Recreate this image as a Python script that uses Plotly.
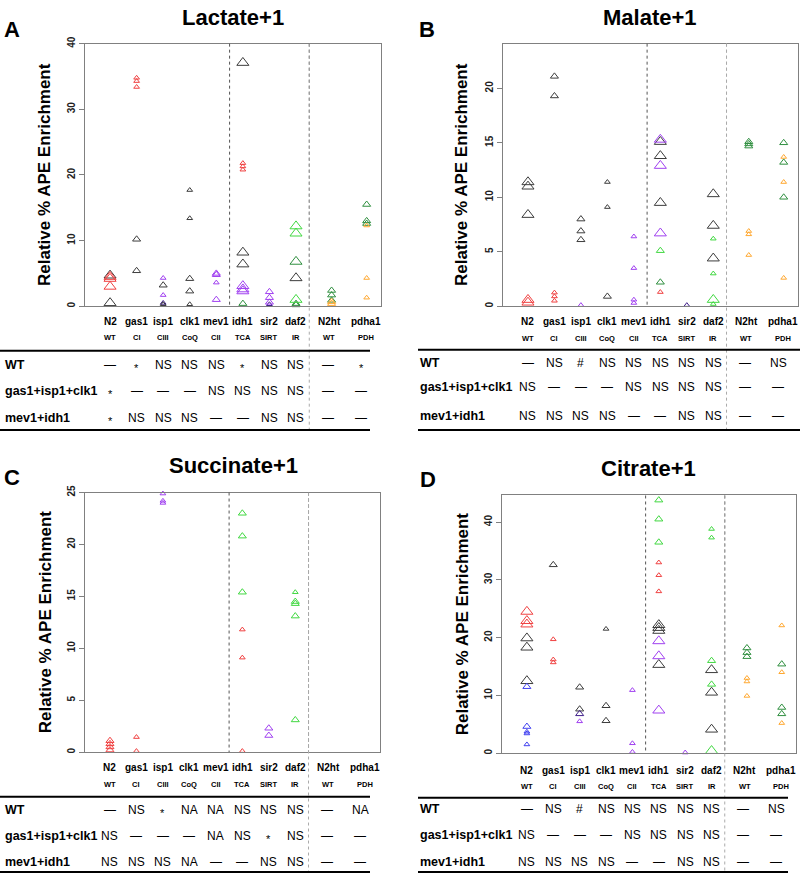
import plotly.graph_objects as go

W, H = 800, 875

# ---------------- data ----------------
CATS = ["N2", "gas1", "isp1", "clk1", "mev1", "idh1", "sir2", "daf2", "N2ht", "pdha1"]
SUBS = ["WT", "CI", "CIII", "CoQ", "CII", "TCA", "SIRT", "IR", "WT", "PDH"]
ROWS = ["WT", "gas1+isp1+clk1", "mev1+idh1"]

# Lactate+1
LAC_CAT = ["N2", "N2", "N2", "N2", "N2",
           "gas1", "gas1", "gas1", "gas1", "gas1",
           "isp1", "isp1", "isp1", "isp1", "isp1",
           "clk1", "clk1", "clk1", "clk1", "clk1",
           "mev1", "mev1", "mev1", "mev1",
           "idh1", "idh1", "idh1", "idh1", "idh1", "idh1", "idh1", "idh1", "idh1", "idh1",
           "sir2", "sir2", "sir2", "sir2",
           "daf2", "daf2", "daf2", "daf2", "daf2", "daf2", "daf2",
           "N2ht", "N2ht", "N2ht", "N2ht", "N2ht",
           "pdha1", "pdha1", "pdha1", "pdha1", "pdha1", "pdha1"]
LAC_VAL = [4.7, 4.5, 4.2, 3.0, 0.5,
           34.8, 34.3, 33.4, 10.2, 5.4,
           4.3, 3.2, 1.7, 0.5, 0.3,
           17.7, 13.4, 4.2, 2.3, 0.3,
           5.0, 4.8, 3.6, 1.0,
           37.1, 21.8, 21.3, 20.8, 8.2, 6.4, 3.1, 2.6, 2.3, 0.4,
           2.2, 1.3, 0.6, 0.3,
           12.2, 11.1, 6.8, 4.3, 1.0, 0.4, 0.2,
           2.4, 1.7, 0.9, 0.7, 0.4,
           15.5, 13.0, 12.6, 12.3, 4.3, 1.3]
LAC_SER = ["black_L", "red_L", "red_L", "red_L", "black_L",
           "red_S", "red_S", "red_S", "black_M", "black_M",
           "purple_S", "black_M", "purple_S", "navy_S", "black_S",
           "black_S", "black_S", "black_M", "black_M", "black_S",
           "purple_M", "purple_M", "purple_S", "purple_M",
           "black_L", "red_S", "red_S", "red_S", "black_L", "black_L", "purple_L", "purple_L", "purple_L", "dkgreen_M",
           "purple_M", "purple_M", "purple_M", "navy_S",
           "lgreen_L", "lgreen_L", "dkgreen_L", "black_L", "lgreen_L", "dkgreen_M", "dkgreen_M",
           "dkgreen_M", "dkgreen_M", "dkgreen_M", "orange_M", "orange_M",
           "dkgreen_M", "dkgreen_M", "dkgreen_M", "orange_S", "orange_S", "orange_S"]
LAC_TABLE = [["—", "*", "NS", "NS", "NS", "*", "NS", "NS", "—", "*"],
             ["*", "—", "—", "—", "NS", "NS", "NS", "NS", "—", "—"],
             ["*", "NS", "NS", "NS", "—", "—", "NS", "NS", "—", "—"]]

# Malate+1
MAL_CAT = ["N2", "N2", "N2", "N2", "N2",
           "gas1", "gas1", "gas1", "gas1", "gas1",
           "isp1", "isp1", "isp1", "isp1",
           "clk1", "clk1", "clk1",
           "mev1", "mev1", "mev1", "mev1",
           "idh1", "idh1", "idh1", "idh1", "idh1", "idh1", "idh1", "idh1", "idh1",
           "sir2",
           "daf2", "daf2", "daf2", "daf2", "daf2", "daf2", "daf2",
           "N2ht", "N2ht", "N2ht", "N2ht", "N2ht", "N2ht",
           "pdha1", "pdha1", "pdha1", "pdha1", "pdha1", "pdha1"]
MAL_VAL = [11.4, 11.0, 8.4, 0.6, 0.35,
           21.1, 19.3, 1.25, 0.9, 0.5,
           8.0, 6.9, 6.1, 0.1,
           11.4, 9.1, 0.9,
           6.4, 3.5, 0.6, 0.3,
           15.3, 15.1, 13.8, 12.9, 9.5, 6.7, 5.1, 2.2, 1.3,
           0.1,
           10.3, 7.4, 4.4, 6.2, 3.0, 0.6, 0.2,
           15.1, 14.9, 14.7, 6.9, 6.6, 4.7,
           15.0, 13.2, 10.0, 13.7, 11.4, 2.6]
MAL_SER = ["black_L", "black_L", "black_L", "red_L", "red_L",
           "black_M", "black_M", "red_S", "red_S", "red_S",
           "black_M", "black_M", "black_M", "purple_S",
           "black_S", "black_S", "black_M",
           "purple_S", "purple_S", "purple_S", "purple_S",
           "purple_L", "black_L", "black_L", "purple_L", "black_L", "purple_L", "lgreen_M", "dkgreen_M", "red_S",
           "navy_S",
           "black_L", "black_L", "black_L", "lgreen_S", "lgreen_S", "lgreen_L", "lgreen_S",
           "dkgreen_M", "dkgreen_M", "dkgreen_M", "orange_S", "orange_S", "orange_S",
           "dkgreen_M", "dkgreen_M", "dkgreen_M", "orange_S", "orange_S", "orange_S"]
MAL_TABLE = [["—", "NS", "#", "NS", "NS", "NS", "NS", "NS", "—", "NS"],
             ["NS", "—", "—", "—", "NS", "NS", "NS", "NS", "—", "—"],
             ["NS", "NS", "NS", "NS", "—", "—", "NS", "NS", "—", "—"]]

# Succinate+1
SUC_CAT = ["N2", "N2", "N2", "N2",
           "gas1", "gas1",
           "isp1", "isp1", "isp1",
           "idh1", "idh1", "idh1", "idh1", "idh1", "idh1",
           "sir2", "sir2",
           "daf2", "daf2", "daf2", "daf2", "daf2"]
SUC_VAL = [1.1, 0.8, 0.5, 0.2,
           1.45, 0.1,
           24.9, 24.2, 24.0,
           23.0, 20.8, 15.4, 11.8, 9.1, 0.1,
           2.3, 1.6,
           15.4, 14.5, 14.3, 13.1, 3.1]
SUC_SER = ["red_M", "red_M", "red_M", "red_M",
           "red_S", "red_S",
           "purple_S", "purple_S", "purple_S",
           "lgreen_M", "lgreen_M", "lgreen_M", "red_S", "red_S", "red_S",
           "purple_M", "purple_M",
           "lgreen_S", "lgreen_M", "lgreen_M", "lgreen_M", "lgreen_M"]
SUC_TABLE = [["—", "NS", "*", "NA", "NA", "NS", "NS", "NS", "—", "NA"],
             ["NS", "—", "—", "—", "NA", "NS", "*", "NS", "—", "—"],
             ["NS", "NS", "NS", "NA", "—", "—", "NS", "NS", "—", "—"]]

# Citrate+1
CIT_CAT = ["N2", "N2", "N2", "N2", "N2", "N2", "N2", "N2", "N2", "N2", "N2",
           "gas1", "gas1", "gas1", "gas1",
           "isp1", "isp1", "isp1", "isp1",
           "clk1", "clk1", "clk1",
           "mev1", "mev1", "mev1",
           "idh1", "idh1", "idh1", "idh1", "idh1", "idh1", "idh1", "idh1", "idh1", "idh1", "idh1", "idh1", "idh1",
           "sir2",
           "daf2", "daf2", "daf2", "daf2", "daf2", "daf2", "daf2", "daf2",
           "N2ht", "N2ht", "N2ht", "N2ht", "N2ht", "N2ht",
           "pdha1", "pdha1", "pdha1", "pdha1", "pdha1", "pdha1"]
CIT_VAL = [24.5, 22.9, 22.3, 19.9, 18.3, 12.5, 11.5, 4.6, 3.7, 3.4, 1.5,
           32.6, 19.7, 16.2, 15.7,
           11.4, 7.6, 6.8, 5.5,
           21.5, 8.2, 5.6,
           10.9, 1.7, 0.2,
           43.8, 40.5, 36.5, 33.0, 30.8, 28.0, 22.2, 21.7, 21.2, 15.3, 19.4, 16.8, 7.4,
           0.1,
           38.8, 37.3, 16.0, 11.9, 14.4, 10.5, 4.1, 0.4,
           18.2, 17.4, 16.7, 13.0, 12.4, 9.9,
           22.1, 14.0, 5.2, 15.4, 7.9, 6.8]
CIT_SER = ["red_L", "red_L", "red_L", "black_L", "black_L", "black_L", "blue_M", "blue_M", "blue_S", "blue_S", "blue_S",
           "black_M", "red_S", "red_S", "red_S",
           "black_M", "black_M", "navy_M", "purple_S",
           "black_S", "black_M", "black_M",
           "purple_S", "purple_S", "purple_S",
           "lgreen_M", "lgreen_M", "lgreen_M", "red_S", "red_S", "red_S", "black_L", "black_L", "black_L", "black_L", "purple_L", "purple_L", "purple_L",
           "purple_S",
           "lgreen_S", "lgreen_S", "lgreen_M", "lgreen_M", "black_L", "black_L", "black_L", "lgreen_L",
           "dkgreen_M", "dkgreen_M", "dkgreen_M", "orange_S", "orange_S", "orange_S",
           "orange_S", "orange_S", "orange_S", "dkgreen_M", "dkgreen_M", "dkgreen_M"]
CIT_TABLE = [["—", "NS", "#", "NS", "NS", "NS", "NS", "NS", "—", "NS"],
             ["NS", "—", "—", "—", "NS", "NS", "NS", "NS", "—", "—"],
             ["NS", "NS", "NS", "NS", "—", "—", "NS", "NS", "—", "—"]]

# ---------------- styling / layout ----------------
COLORS = {"black": "#3c3c3c", "red": "#f04040", "purple": "#a040f0", "lgreen": "#40d840",
          "dkgreen": "#2f8f3f", "orange": "#ffa830", "blue": "#4040f0", "navy": "#40208a"}
SIZES = {"L": 10.5, "M": 7, "S": 5}

XPOS = dict(zip(CATS, [1, 2, 3, 4, 5, 6, 7, 8, 9.34, 10.66]))
LABEL_X = [1, 2, 3, 4, 5, 6, 7, 8, 9.25, 10.65]
TABLE_X = [1, 2, 3, 4, 5, 6, 7, 8, 9.2, 10.45]
XR = [0.057, 11.2]
FONT = "Liberation Sans, Arial, sans-serif"


def px(x):
    return x / W


def py(y):
    return 1 - y / H


panels = [
    dict(title="Lactate+1", letter="A", cat=LAC_CAT, val=LAC_VAL, ser=LAC_SER, table=LAC_TABLE,
         box=(85, 381, 37, 302), ymax=40, dtick=10, title_xy=(233, 11), letter_xy=(12, 23),
         ytitle_x=45, lab_y=(317, 334), lines=(0, 370, 347, 427), row_x=3, row_y=(361, 388, 415),
         sep2="#555555"),
    dict(title="Malate+1", letter="B", cat=MAL_CAT, val=MAL_VAL, ser=MAL_SER, table=MAL_TABLE,
         box=(503, 798, 37, 302), ymax=24.1, dtick=5, title_xy=(650, 11), letter_xy=(427, 23),
         ytitle_x=462, lab_y=(317, 335), lines=(418, 800, 346, 427), row_x=418, row_y=(359, 384, 413),
         sep2="#bbbbbb"),
    dict(title="Succinate+1", letter="C", cat=SUC_CAT, val=SUC_VAL, ser=SUC_SER, table=SUC_TABLE,
         box=(85, 380, 490, 752), ymax=25, dtick=5, title_xy=(233, 463), letter_xy=(12, 475),
         ytitle_x=45, lab_y=(768, 785), lines=(0, 370, 797, 873), row_x=3, row_y=(810, 837, 863),
         sep2="#555555"),
    dict(title="Citrate+1", letter="D", cat=CIT_CAT, val=CIT_VAL, ser=CIT_SER, table=CIT_TABLE,
         box=(502, 796, 493, 753), ymax=44.6, dtick=10, title_xy=(648, 466), letter_xy=(428, 477),
         ytitle_x=462, lab_y=(771, 787), lines=(418, 788, 798, 873), row_x=418, row_y=(809, 836, 863),
         sep2="#555555"),
]

fig = go.Figure()
annotations = []
shapes = []

for i, p in enumerate(panels):
    n = "" if i == 0 else str(i + 1)
    xa, ya = "x" + n, "y" + n
    x0, x1, y0, y1 = p["box"]

    # traces, one per series
    order = []
    for s in p["ser"]:
        if s not in order:
            order.append(s)
    for s in order:
        xs = [XPOS[c] for c, ss in zip(p["cat"], p["ser"]) if ss == s]
        ys = [v for v, ss in zip(p["val"], p["ser"]) if ss == s]
        col, sz = s.split("_")
        fig.add_trace(go.Scatter(
            x=xs, y=ys, mode="markers", xaxis=xa, yaxis=ya, showlegend=False,
            cliponaxis=False, hoverinfo="y",
            marker=dict(symbol="triangle-up-open", size=SIZES[sz], color=COLORS[col],
                        line=dict(width=1, color=COLORS[col]))))

    axis_common = dict(showline=True, mirror=True, linecolor="#808080", linewidth=1.3,
                       showgrid=False, zeroline=False)
    fig.update_layout(**{
        ("xaxis" + n): dict(domain=[px(x0), px(x1)], range=XR, anchor=ya, showticklabels=False,
                            ticks="", **axis_common),
        ("yaxis" + n): dict(domain=[py(y1), py(y0)], range=[0, p["ymax"]], anchor=xa,
                            tickmode="linear", tick0=0, dtick=p["dtick"], ticks="outside",
                            ticklen=5, tickcolor="#808080", tickangle=-90,
                            tickfont=dict(size=10, family=FONT, color="#222222", weight="bold"),
                            **axis_common),
    })

    def to_px(xv):
        return x0 + (xv - XR[0]) / (XR[1] - XR[0]) * (x1 - x0)

    # separators
    for sx, col in ((5.5, "#555555"), (8.5, p["sep2"])):
        shapes.append(dict(type="line", xref="paper", yref="paper",
                           x0=px(to_px(sx)), x1=px(to_px(sx)), y0=py(y0), y1=py(y1),
                           line=dict(color=col, width=1, dash="dot")))
    lx0, lx1, ltop, lbot = p["lines"]
    shapes.append(dict(type="line", xref="paper", yref="paper",
                       x0=px(to_px(8.5)), x1=px(to_px(8.5)), y0=py(y0), y1=py(lbot),
                       line=dict(color="#aaaaaa", width=1, dash="dot")))
    for yy in (ltop, lbot):
        shapes.append(dict(type="line", xref="paper", yref="paper", x0=px(lx0), x1=px(lx1),
                           y0=py(yy), y1=py(yy), line=dict(color="black", width=2)))

    # titles
    annotations.append(dict(text="<b>" + p["title"] + "</b>", xref="paper", yref="paper",
                            x=px(p["title_xy"][0]), y=py(p["title_xy"][1]), showarrow=False,
                            xanchor="center", yanchor="middle", font=dict(size=22, family=FONT)))
    annotations.append(dict(text="<b>" + p["letter"] + "</b>", xref="paper", yref="paper",
                            x=px(p["letter_xy"][0]), y=py(p["letter_xy"][1]), showarrow=False,
                            xanchor="center", yanchor="middle", font=dict(size=22, family=FONT)))
    annotations.append(dict(text="<b>Relative % APE Enrichment</b>", xref="paper", yref="paper",
                            x=px(p["ytitle_x"]), y=py((y0 + y1) / 2), showarrow=False, textangle=-90,
                            xanchor="center", yanchor="middle", font=dict(size=17, family=FONT)))

    # category labels
    for lx, c, sub in zip(LABEL_X, CATS, SUBS):
        annotations.append(dict(text="<b>" + c + "</b>", xref="paper", yref="paper",
                                x=px(to_px(lx)), y=py(p["lab_y"][0]), showarrow=False,
                                xanchor="center", yanchor="middle", font=dict(size=10, family=FONT)))
        annotations.append(dict(text="<b>" + sub + "</b>", xref="paper", yref="paper",
                                x=px(to_px(lx)), y=py(p["lab_y"][1]), showarrow=False,
                                xanchor="center", yanchor="middle", font=dict(size=7.5, family=FONT)))

    # table
    for r, (rl, ry) in enumerate(zip(ROWS, p["row_y"])):
        annotations.append(dict(text="<b>" + rl + "</b>", xref="paper", yref="paper",
                                x=px(p["row_x"]), y=py(ry), showarrow=False,
                                xanchor="left", yanchor="middle", font=dict(size=12.5, family=FONT)))
        for tx, v in zip(TABLE_X, p["table"][r]):
            star = v == "*"
            annotations.append(dict(text=v, xref="paper", yref="paper",
                                    x=px(to_px(tx)), y=py(ry), showarrow=False,
                                    xanchor="center", yanchor="middle",
                                    yshift=-3 if star else 0,
                                    font=dict(size=11 if star else 12, family=FONT, color="black")))

fig.update_layout(width=W, height=H, margin=dict(l=0, r=0, t=0, b=0),
                  paper_bgcolor="white", plot_bgcolor="white",
                  font=dict(family=FONT, color="black"),
                  annotations=annotations, shapes=shapes)

fig.write_html("out.html", config={"displayModeBar": False},
               post_script="document.body.style.margin='0';document.body.style.overflow='hidden';")
